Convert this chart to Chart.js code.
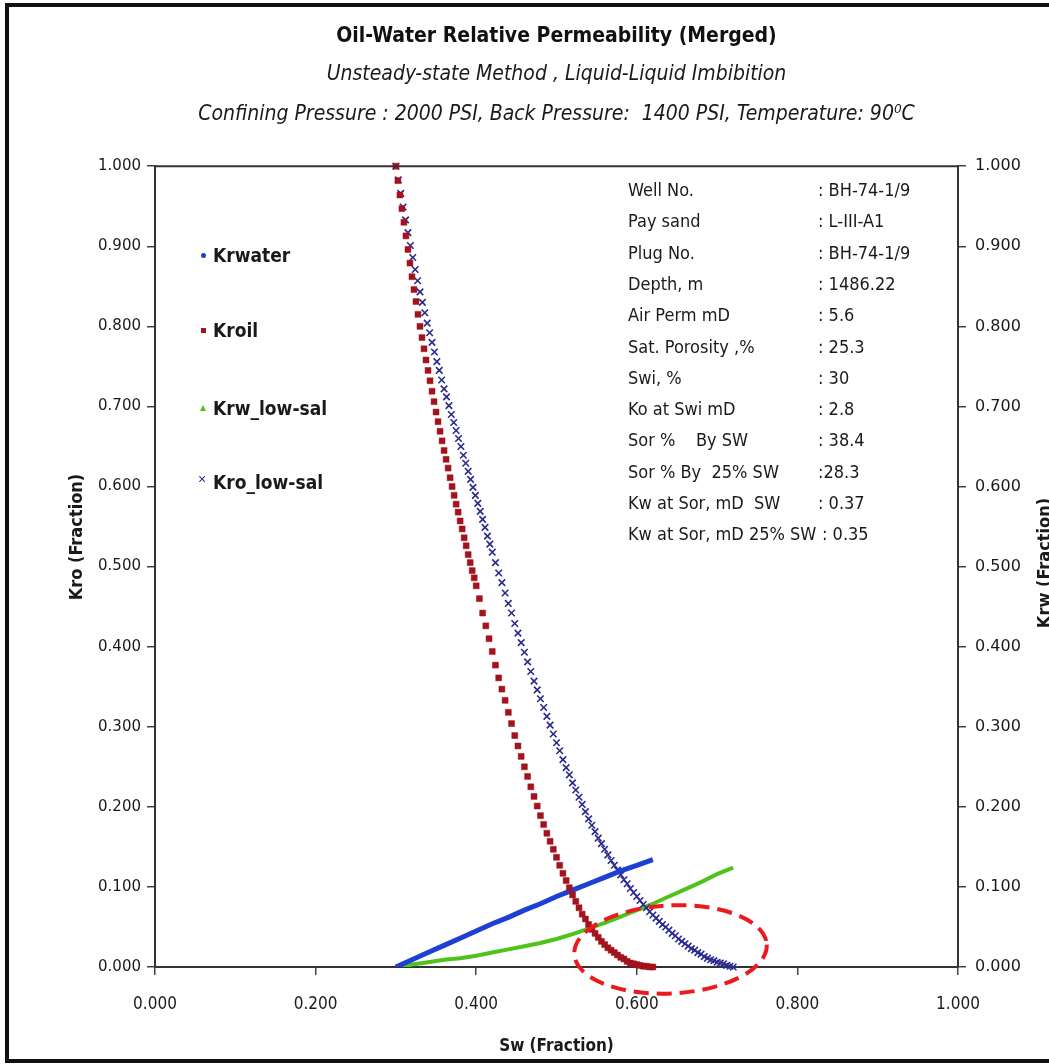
<!DOCTYPE html>
<html>
<head>
<meta charset="utf-8">
<script src="https://cdn.jsdelivr.net/npm/chart.js@4.4.1/dist/chart.umd.min.js"></script>
<style>
  html, body { margin: 0; padding: 0; background: #fff; }
  #wrap { position: relative; width: 1049px; height: 1064px; overflow: hidden; }
  #frame { position: absolute; left: 5px; top: 3px; width: 1060px; height: 1052px;
    border-left: 4px solid #111; border-top: 4px solid #111; border-bottom: 4px solid #111; }
  .narrow { font-family: "Liberation Sans Narrow", "DejaVu Sans Condensed", "Roboto", sans-serif; color: #1a1a1a; }
  .vlabel { position: absolute; transform: translate(-50%, -50%) rotate(-90deg); white-space: nowrap;
    font-size: 18px; font-weight: bold; }
  .leg { position: absolute; left: 198px; height: 24px; display: flex; align-items: center;
    font-size: 19px; font-weight: bold; white-space: nowrap; }
  .mk { display: inline-block; width: 10px; margin-right: 5px; position: relative; height: 10px; }
  .info { position: absolute; font-size: 18px; white-space: pre; line-height: 20px; }
</style>
</head>
<body>
<div id="wrap">
  <canvas id="chart"></canvas>
  <div id="frame"></div>
  <div class="vlabel narrow" style="left:75px; top:537px;">Kro (Fraction)</div>
  <div class="vlabel narrow" style="left:1043px; top:563px;">Krw (Fraction)</div>
  <div id="legend"></div>
  <div id="table"></div>
</div>
<script>
// Sw (fraction) and relative permeability readings
const swOil = [
  0.3000, 0.3025, 0.3050, 0.3075, 0.3100, 0.3125, 0.3150, 0.3175, 0.3200, 0.3225,
  0.3250, 0.3275, 0.3300, 0.3325, 0.3350, 0.3375, 0.3400, 0.3425, 0.3450, 0.3475,
  0.3500, 0.3525, 0.3550, 0.3575, 0.3600, 0.3625, 0.3650, 0.3675, 0.3700, 0.3725,
  0.3750, 0.3775, 0.3800, 0.3825, 0.3850, 0.3875, 0.3900, 0.3925, 0.3950, 0.3975,
  0.4000, 0.404, 0.408, 0.412, 0.416, 0.420, 0.424, 0.428, 0.432, 0.436,
  0.440, 0.444, 0.448, 0.452, 0.456, 0.460, 0.464, 0.468, 0.472, 0.476,
  0.480, 0.484, 0.488, 0.492, 0.496, 0.500, 0.504, 0.508, 0.512, 0.516,
  0.520, 0.524, 0.528, 0.532, 0.536, 0.540, 0.544, 0.548, 0.552, 0.556,
  0.560, 0.564, 0.568, 0.572, 0.576, 0.580, 0.584, 0.588, 0.592, 0.596,
  0.600, 0.604, 0.608, 0.612, 0.616, 0.620
];
const kroil = [
  1.000, 0.982, 0.964, 0.947, 0.930, 0.913, 0.896, 0.879, 0.862, 0.846,
  0.831, 0.815, 0.800, 0.786, 0.772, 0.758, 0.745, 0.732, 0.719, 0.706,
  0.693, 0.681, 0.669, 0.657, 0.645, 0.634, 0.623, 0.611, 0.600, 0.589,
  0.578, 0.568, 0.557, 0.547, 0.536, 0.526, 0.515, 0.505, 0.495, 0.486,
  0.476, 0.460, 0.442, 0.426, 0.410, 0.394, 0.377, 0.361, 0.347, 0.333,
  0.318, 0.304, 0.289, 0.276, 0.263, 0.250, 0.238, 0.225, 0.213, 0.201,
  0.189, 0.178, 0.167, 0.157, 0.147, 0.137, 0.127, 0.117, 0.108, 0.099,
  0.090, 0.082, 0.074, 0.066, 0.060, 0.053, 0.047, 0.042, 0.037, 0.032,
  0.028, 0.024, 0.021, 0.018, 0.015, 0.012, 0.010, 0.007, 0.005, 0.004,
  0.003, 0.002, 0.001, 0.001, 0.000, 0.000
];

const swOilLowSal = [
  0.300, 0.303, 0.306, 0.309, 0.312, 0.315, 0.318, 0.321, 0.324, 0.327,
  0.330, 0.333, 0.336, 0.339, 0.342, 0.345, 0.348, 0.351, 0.354, 0.357,
  0.360, 0.363, 0.366, 0.369, 0.372, 0.375, 0.378, 0.381, 0.384, 0.387,
  0.390, 0.393, 0.396, 0.399, 0.402, 0.405, 0.408, 0.411, 0.414, 0.417,
  0.420, 0.424, 0.428, 0.432, 0.436, 0.440, 0.444, 0.448, 0.452, 0.456,
  0.460, 0.464, 0.468, 0.472, 0.476, 0.480, 0.484, 0.488, 0.492, 0.496,
  0.500, 0.504, 0.508, 0.512, 0.516, 0.520, 0.524, 0.528, 0.532, 0.536,
  0.540, 0.544, 0.548, 0.552, 0.556, 0.560, 0.564, 0.568, 0.572, 0.576,
  0.580, 0.584, 0.588, 0.592, 0.596, 0.600, 0.604, 0.608, 0.612, 0.616,
  0.620, 0.624, 0.628, 0.632, 0.636, 0.640, 0.644, 0.648, 0.652, 0.656,
  0.660, 0.664, 0.668, 0.672, 0.676, 0.680, 0.684, 0.688, 0.692, 0.696,
  0.700, 0.704, 0.708, 0.712, 0.716, 0.720
];
const kroLowSal = [
  1.000, 0.983, 0.966, 0.949, 0.933, 0.917, 0.901, 0.886, 0.871, 0.857,
  0.843, 0.830, 0.817, 0.804, 0.792, 0.780, 0.768, 0.756, 0.745, 0.733,
  0.722, 0.712, 0.701, 0.690, 0.680, 0.670, 0.660, 0.650, 0.639, 0.629,
  0.619, 0.609, 0.599, 0.589, 0.579, 0.569, 0.559, 0.549, 0.538, 0.528,
  0.518, 0.505, 0.492, 0.480, 0.467, 0.454, 0.442, 0.429, 0.417, 0.405,
  0.393, 0.381, 0.369, 0.357, 0.346, 0.335, 0.324, 0.313, 0.302, 0.291,
  0.280, 0.270, 0.259, 0.249, 0.240, 0.230, 0.221, 0.212, 0.203, 0.194,
  0.185, 0.177, 0.169, 0.161, 0.154, 0.147, 0.140, 0.133, 0.127, 0.121,
  0.115, 0.109, 0.104, 0.098, 0.093, 0.088, 0.083, 0.078, 0.074, 0.069,
  0.065, 0.061, 0.057, 0.053, 0.050, 0.046, 0.042, 0.039, 0.035, 0.032,
  0.029, 0.026, 0.023, 0.021, 0.018, 0.016, 0.013, 0.011, 0.009, 0.008,
  0.006, 0.005, 0.004, 0.002, 0.001, 0.000
];

const swWater = [0.30, 0.32, 0.34, 0.36, 0.38, 0.40, 0.42, 0.44, 0.46, 0.48,
  0.50, 0.52, 0.54, 0.56, 0.58, 0.60, 0.62];
const krwater = [0.000, 0.009, 0.018, 0.027, 0.036, 0.045, 0.054, 0.062, 0.071, 0.079,
  0.088, 0.096, 0.104, 0.112, 0.120, 0.127, 0.134];

const swWaterLowSal = [0.30, 0.32, 0.34, 0.36, 0.38, 0.40, 0.42, 0.44, 0.46, 0.48, 0.50,
  0.52, 0.54, 0.56, 0.58, 0.60, 0.62, 0.64, 0.66, 0.68, 0.70, 0.72];
const krwLowSal = [0.000, 0.003, 0.006, 0.009, 0.011, 0.014, 0.018, 0.022, 0.026, 0.030, 0.035,
  0.041, 0.048, 0.055, 0.063, 0.071, 0.079, 0.088, 0.097, 0.106, 0.116, 0.124];

const axisTicks = [0, 0.2, 0.4, 0.6, 0.8, 1.0];

// highlighted end-point region: [Sw centre, Kr centre, Sw half-width, Kr half-height]
const highlight = [0.642, 0.022, 0.120, 0.055];

const seriesNames = ['Krwater', 'Kroil', 'Krw_low-sal', 'Kro_low-sal'];
const seriesColors = ['#1d3fd4', '#a3121d', '#4fc21c', '#2a2a8e'];

const infoLabels = ['Well No.', 'Pay sand', 'Plug No.', 'Depth, m', 'Air Perm mD',
  'Sat. Porosity ,%', 'Swi, %', 'Ko at Swi mD', 'Sor %    By SW', 'Sor % By  25% SW',
  'Kw at Sor, mD  SW', 'Kw at Sor, mD 25% SW'];
const infoValues = [': BH-74-1/9', ': L-III-A1', ': BH-74-1/9', ': 1486.22', ': 5.6',
  ': 25.3', ': 30', ': 2.8', ': 38.4', ':28.3', ': 0.37', ': 0.35'];

const NARROW = '"Liberation Sans Narrow", "DejaVu Sans Condensed", Roboto, sans-serif';
const WIDE = '"DejaVu Sans", Verdana, sans-serif';

function pairs(xs, ys) {
  return xs.map((x, i) => ({ x, y: ys[i] }));
}

// legend and info table as text overlays
const legendY = [255, 330, 408, 482];
const markers = [
  '<span style="position:absolute;left:3px;top:3px;width:5px;height:5px;border-radius:50%;background:#1d3fd4"></span>',
  '<span style="position:absolute;left:3px;top:3px;width:5px;height:5px;background:#a3121d"></span>',
  '<span style="position:absolute;left:2px;top:2px;width:0;height:0;border-left:3px solid transparent;border-right:3px solid transparent;border-bottom:6px solid #4fc21c"></span>',
  '<span style="position:absolute;left:0px;top:-6px;font:14px sans-serif;color:#2a2a8e">&#215;</span>'
];
document.getElementById('legend').innerHTML = seriesNames.map((name, i) =>
  `<div class="leg narrow" style="top:${legendY[i] - 12}px;"><span class="mk">${markers[i]}</span>${name}</div>`
).join('');

document.getElementById('table').innerHTML = infoLabels.map((label, i) => {
  const y = 190 + i * 31.3 - 10;
  const left = i === infoLabels.length - 1 ? 822 : 818;
  return `<div class="info narrow" style="left:628px;top:${y}px;">${label}</div>` +
    `<div class="info narrow" style="left:${left}px;top:${y}px;">${infoValues[i]}</div>`;
}).join('');

const plotBox = {
  id: 'plotBox',
  afterDatasetsDraw(chart) {
    const { ctx, chartArea } = chart;
    ctx.save();
    ctx.strokeStyle = '#333';
    ctx.lineWidth = 2;
    ctx.beginPath();
    ctx.moveTo(chartArea.left, chartArea.top);
    ctx.lineTo(chartArea.right, chartArea.top);
    ctx.stroke();
    ctx.restore();
  },
  afterDraw(chart) {
    const { ctx, scales } = chart;
    const [cx, cy, hw, hh] = highlight;
    const px = scales.x.getPixelForValue(cx);
    const py = scales.y.getPixelForValue(cy);
    const rx = scales.x.getPixelForValue(cx + hw) - px;
    const ry = py - scales.y.getPixelForValue(cy + hh);
    ctx.save();
    ctx.strokeStyle = '#ec1a1f';
    ctx.lineWidth = 4;
    ctx.setLineDash([15, 8]);
    ctx.beginPath();
    ctx.ellipse(px, py, rx, ry, -0.05, 0, Math.PI * 2);
    ctx.stroke();
    ctx.restore();
  }
};

const tickFmt = (v) => Number(v).toFixed(3);

new Chart(document.getElementById('chart').getContext('2d'), {
  type: 'scatter',
  data: {
    datasets: [
      {
        label: seriesNames[1],
        data: pairs(swOil, kroil),
        yAxisID: 'y',
        pointStyle: 'rect',
        pointRadius: 4.2,
        backgroundColor: seriesColors[1],
        borderColor: seriesColors[1],
        borderWidth: 0.5,
        clip: false,
        order: 1,
      },
      {
        label: seriesNames[3],
        data: pairs(swOilLowSal, kroLowSal),
        yAxisID: 'y',
        pointStyle: 'crossRot',
        pointRadius: 4.6,
        borderColor: seriesColors[3],
        borderWidth: 1.6,
        clip: false,
        order: 3,
      },
      {
        label: seriesNames[0],
        data: pairs(swWater, krwater),
        yAxisID: 'y2',
        showLine: true,
        borderColor: seriesColors[0],
        borderWidth: 5,
        pointRadius: 0,
        order: 2,
      },
      {
        label: seriesNames[2],
        data: pairs(swWaterLowSal, krwLowSal),
        yAxisID: 'y2',
        showLine: true,
        borderColor: seriesColors[2],
        borderWidth: 4,
        pointRadius: 0,
        order: 4,
      },
    ],
  },
  options: {
    animation: false,
    responsive: true,
    maintainAspectRatio: false,
    layout: { padding: { left: 12, right: 0, top: 8, bottom: 7 } },
    plugins: {
      legend: { display: false },
      tooltip: { enabled: false },
      title: {
        display: true,
        fullSize: false,
        text: 'Oil-Water Relative Permeability (Merged)',
        color: '#111',
        font: { family: NARROW, size: 21, weight: 'bold' },
        padding: { top: 16, bottom: 4 },
      },
      subtitle: {
        display: true,
        fullSize: false,
        text: ['Unsteady-state Method , Liquid-Liquid Imbibition',
          'Confining Pressure : 2000 PSI, Back Pressure:  1400 PSI, Temperature: 90\u2070C'],
        color: '#1a1a1a',
        font: { family: NARROW, size: 21, style: 'italic', lineHeight: 1.905 },
        padding: { top: 1, bottom: 32 },
      },
    },
    scales: {
      x: {
        type: 'linear',
        min: 0,
        max: 1,
        afterFit: (s) => { s.height = 90; },
        afterBuildTicks: (s) => { s.ticks = axisTicks.map((v) => ({ value: v })); },
        ticks: { callback: tickFmt, color: '#1a1a1a', padding: 19, font: { family: NARROW, size: 17 } },
        grid: { drawOnChartArea: false, drawTicks: true, tickLength: 8, color: '#444', lineWidth: 1.5 },
        border: { display: true, color: '#333', width: 2 },
        title: {
          display: true,
          text: 'Sw (Fraction)',
          color: '#1a1a1a',
          font: { family: NARROW, size: 17, weight: 'bold' },
          padding: { top: 0, bottom: 0 },
        },
      },
      y: {
        type: 'linear',
        position: 'left',
        min: 0,
        max: 1,
        afterFit: (s) => { s.width = 143; },
        ticks: { stepSize: 0.1, callback: tickFmt, color: '#1a1a1a', padding: 6, font: { family: WIDE, size: 15 } },
        grid: { drawOnChartArea: false, drawTicks: true, tickLength: 8, color: '#444', lineWidth: 1.5 },
        border: { display: true, color: '#333', width: 2 },
      },
      y2: {
        type: 'linear',
        position: 'right',
        min: 0,
        max: 1,
        afterFit: (s) => { s.width = 91; },
        ticks: { stepSize: 0.1, callback: tickFmt, color: '#1a1a1a', padding: 9, font: { family: WIDE, size: 16 } },
        grid: { drawOnChartArea: false, drawTicks: true, tickLength: 8, color: '#444', lineWidth: 1.5 },
        border: { display: true, color: '#333', width: 2 },
      },
    },
  },
  plugins: [plotBox],
});
</script>
</body>
</html>
